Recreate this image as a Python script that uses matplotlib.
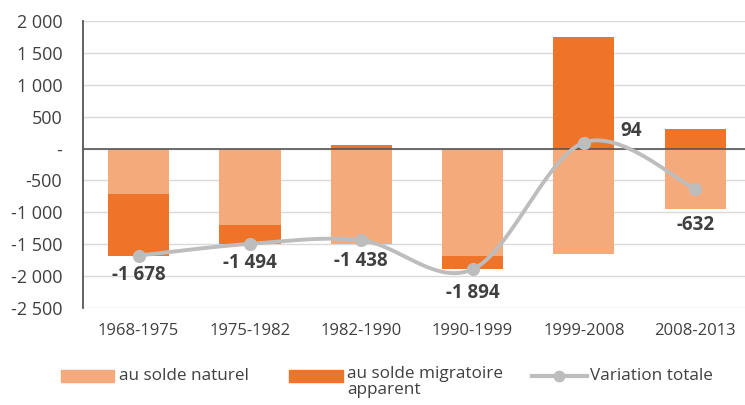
import numpy as np
import matplotlib
matplotlib.use("Agg")
import matplotlib.pyplot as plt
from matplotlib.patches import Rectangle
from matplotlib.lines import Line2D
from matplotlib.ticker import FuncFormatter

plt.rcParams['font.family'] = ['Open Sans', 'DejaVu Sans']

periods = ["1968-1975", "1975-1982", "1982-1990", "1990-1999", "1999-2008", "2008-2013"]
solde_naturel = [-710, -1202, -1500, -1690, -1660, -945]
solde_migratoire = [-968, -292, 62, -204, 1754, 313]
variation_totale = [-1678, -1494, -1438, -1894, 94, -632]
y_ticks = [2000, 1500, 1000, 500, 0, -500, -1000, -1500, -2000, -2500]
legend_labels = ["au solde naturel", "au solde migratoire\napparent", "Variation totale"]

C_NAT = "#F5AA7B"
C_MIG = "#EE7429"
C_LINE = "#BDBDBD"
C_TXT = "#404040"

W, H = 745, 405
fig = plt.figure(figsize=(W / 100, H / 100), dpi=100)
ax = fig.add_axes([83 / W, 1 - 308 / H, 1 - 83 / W, (308 - 21) / H])

x = np.arange(len(periods))
nat = np.array(solde_naturel, float)
mig = np.array(solde_migratoire, float)
w = 0.55

ax.bar(x, nat, width=w, color=C_NAT, zorder=2)
mig_bottom = np.where(np.sign(mig) == np.sign(nat), nat, 0)
ax.bar(x, mig, width=w, bottom=mig_bottom, color=C_MIG, zorder=2)

# smoothed line (Catmull-Rom style Bezier, like Excel smoothing)
tot = np.array(variation_totale, float)
P = np.column_stack([x.astype(float), tot])
ext = np.vstack([P[0], P, P[-1]])
xs, ys = [], []
t = np.linspace(0, 1, 50)
for i in range(len(P) - 1):
    p0, p1, p2, p3 = ext[i], ext[i + 1], ext[i + 2], ext[i + 3]
    c1 = p1 + (p2 - p0) / 6
    c2 = p2 - (p3 - p1) / 6
    B = ((1 - t) ** 3)[:, None] * p1 + (3 * (1 - t) ** 2 * t)[:, None] * c1 + \
        (3 * (1 - t) * t ** 2)[:, None] * c2 + (t ** 3)[:, None] * p2
    xs.extend(B[:, 0]); ys.extend(B[:, 1])
ax.plot(xs, ys, color=C_LINE, lw=2.8, zorder=4, solid_capstyle='round')
ax.plot(x, tot, 'o', color=C_LINE, ms=8.5, zorder=5)

def fmt(v):
    s = f"{abs(int(v)):,}".replace(",", " ")
    return ("-" if v < 0 else "") + s

label_offsets = [(0, -14), (0, -14), (0, -15), (0, -17), (26, 8), (0, -26)]
for xi, v, off in zip(x, tot, label_offsets):
    ax.annotate(fmt(v), (xi, v), xytext=off, textcoords='offset points',
                ha='left' if off[0] > 0 else 'center', va='center',
                fontsize=13.5, fontweight='bold', color=C_TXT, zorder=6)

ax.set_xlim(-0.5, -0.5 + (W - 83) / 111.3)
ax.set_ylim(-2500, 2000)
ax.set_yticks(y_ticks)
ax.yaxis.set_major_formatter(FuncFormatter(lambda v, p: "-" if v == 0 else fmt(v)))
ax.set_xticks(x)
ax.set_xticklabels(periods)
ax.tick_params(axis='both', length=0, colors=C_TXT)
ax.tick_params(axis='y', pad=15, labelsize=13)
ax.tick_params(axis='x', pad=11, labelsize=12)
ax.grid(axis='y', color="#DADADA", lw=1, zorder=0)
ax.axhline(0, color="#555555", lw=1.2, zorder=3)
for s in ['top', 'right', 'bottom']:
    ax.spines[s].set_visible(False)
ax.spines['left'].set_color("#555555")
ax.spines['left'].set_linewidth(1.3)

# manual legend (pixel layout from top-left)
def fx(px): return px / W
def fy(py): return 1 - py / H

ly = 376
LFS = 12.3
fig.patches.append(Rectangle((fx(61), fy(ly + 6)), fx(114) - fx(61), 12 / H,
                             transform=fig.transFigure, color=C_NAT))
fig.text(fx(119), fy(ly), legend_labels[0], fontsize=LFS, color=C_TXT, va='center', ha='left')
fig.patches.append(Rectangle((fx(289), fy(ly + 6)), fx(343) - fx(289), 12 / H,
                             transform=fig.transFigure, color=C_MIG))
fig.text(fx(347), fy(ly - 10), legend_labels[1], fontsize=LFS, color=C_TXT, va='top', ha='left',
         linespacing=1.0)
fig.lines.append(Line2D([fx(532), fx(587)], [fy(ly), fy(ly)], transform=fig.transFigure,
                        color=C_LINE, lw=3))
fig.lines.append(Line2D([fx(559)], [fy(ly)], transform=fig.transFigure, marker='o',
                        ms=7.5, color=C_LINE))
fig.text(fx(590), fy(ly), legend_labels[2], fontsize=LFS, color=C_TXT, va='center', ha='left')

fig.savefig("out.png", dpi=100)
